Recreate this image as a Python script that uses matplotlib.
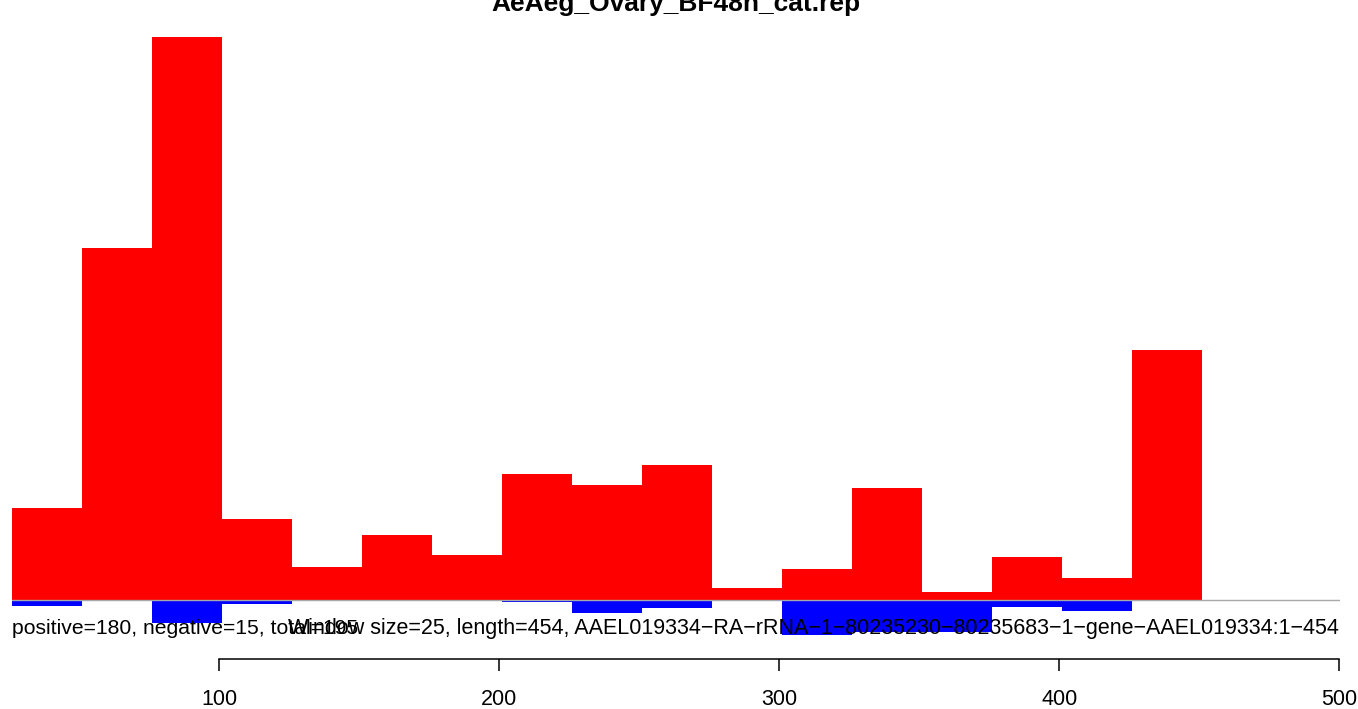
import matplotlib
matplotlib.use("Agg")
from matplotlib import pyplot as plt
import numpy as np

# window starts (1-based, window size 25)
starts = [26, 51, 76, 101, 126, 151, 176, 201, 226, 251, 276, 301, 326, 351, 376, 401, 426]
# positive strand signal per window
pos = [92, 352, 563, 81, 33, 65, 45, 126, 115, 135, 12, 31, 112, 8, 43, 22, 250]
# negative strand signal per window
neg = [6, 0, 23, 4, 0, 0, 1, 2, 13, 8, 0, 35, 32, 32, 7, 11, 0]
xticks = [100, 200, 300, 400, 500]

title = "AeAeg_Ovary_BF48h_cat.rep"
left_txt = "positive=180, negative=15, total=195"
right_txt = ("Window size=25, length=454, "
             "AAEL019334\u2212RA\u2212rRNA\u22121\u221280235230\u221280235683\u22121\u2212gene\u2212AAEL019334:1\u2212454")

plt.rcParams['font.family'] = ['Liberation Sans', 'DejaVu Sans']

W, H = 1358, 709
fig = plt.figure(figsize=(W / 100, H / 100), dpi=100)
# axes in pixel terms: x 12..1340, y 37..659
ax = fig.add_axes([12 / W, (H - 659) / H, (1340 - 12) / W, (659 - 37) / H])

win = 25
ax.bar(starts, pos, width=win, align='edge', color='#FF0000', linewidth=0, zorder=2)
ax.bar(starts, [-v for v in neg], width=win, align='edge', color='#0000FF', linewidth=0, zorder=2)
ax.axhline(0, color='#A8A8A8', lw=1.0, zorder=3)

ax.set_xlim(26, 500.3)
ax.set_ylim(-59, 563)

for s in ['top', 'right', 'left']:
    ax.spines[s].set_visible(False)
ax.spines['bottom'].set_bounds(100, 500)
ax.spines['bottom'].set_linewidth(1.1)
ax.set_yticks([])
ax.set_xticks(xticks)
ax.set_xticklabels([str(t) for t in xticks])
ax.tick_params(axis='x', length=8.6, width=1.1, pad=13, labelsize=15.5)

# text under the baseline, drawn over the bars
fig.text(12 / W, (H - 634) / H, left_txt, ha='left', va='baseline', fontsize=15.2, zorder=5)
fig.text(1339 / W, (H - 634) / H, right_txt, ha='right', va='baseline', fontsize=15.5, zorder=5)

fig.text(676 / W, (H - 11) / H, title, ha='center', va='baseline', fontsize=19, fontweight='bold')

fig.savefig("out.png", dpi=100)
